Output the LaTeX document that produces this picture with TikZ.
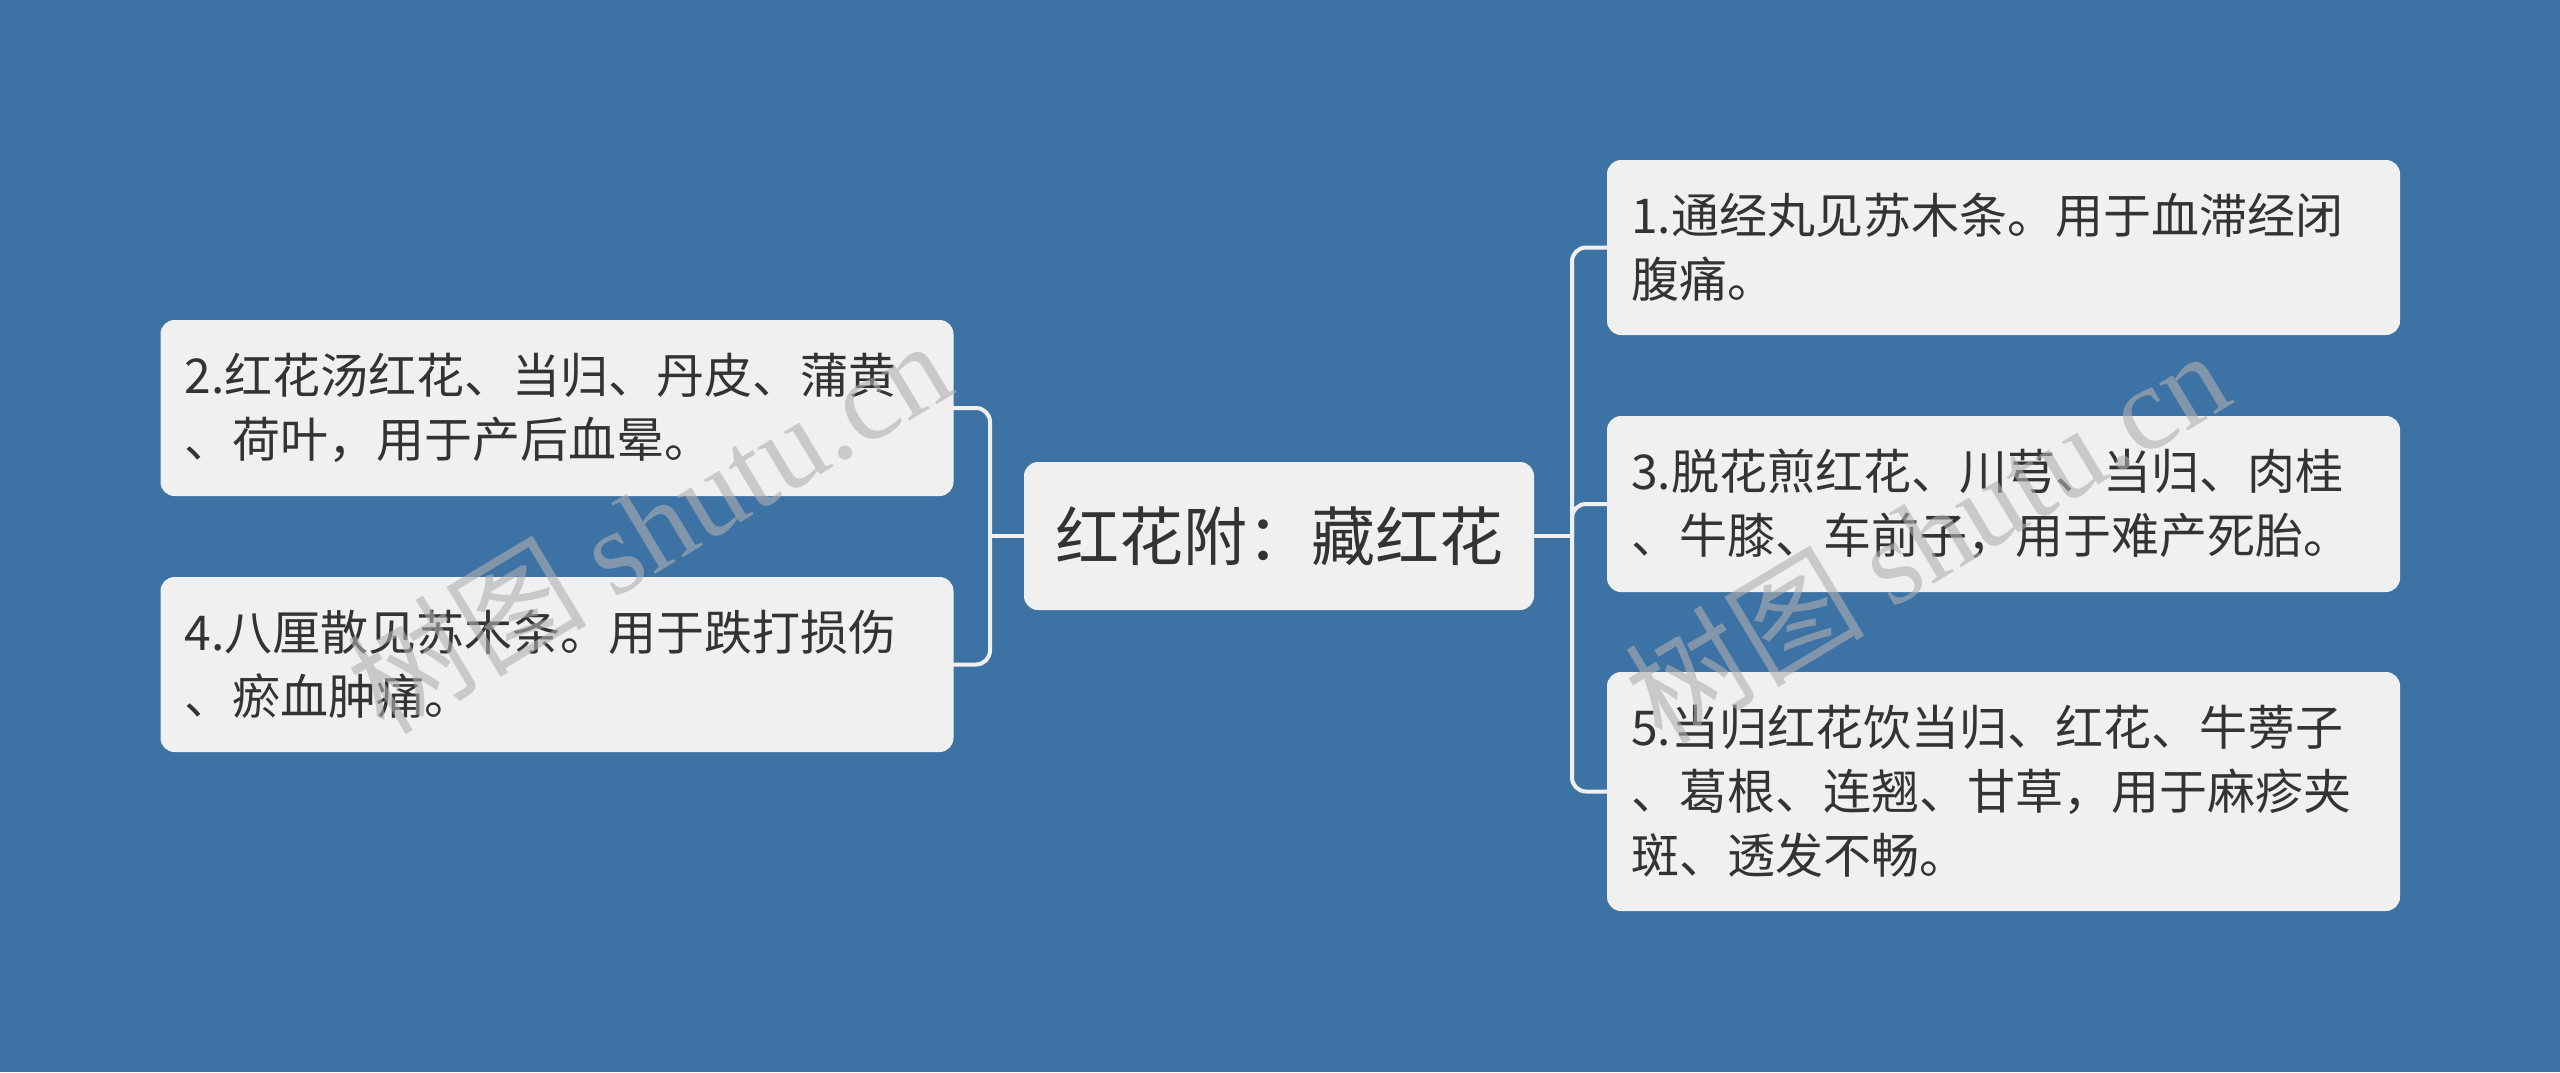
\documentclass[tikz,border=0pt]{standalone}
\usepackage{fontspec}
\setmainfont{Noto Sans CJK SC}
\newfontfamily\cjk{Noto Sans CJK SC}
\newfontfamily\wmserif{Liberation Serif}
\definecolor{bg}{HTML}{3D72A5}
\definecolor{nodefill}{HTML}{F0F0F0}
\definecolor{txt}{HTML}{333333}
\definecolor{wmcol}{RGB}{175,175,175}
\begin{document}
\begin{tikzpicture}[x=1pt,y=-1pt,
  topic/.style={fill=nodefill, rounded corners=14pt, text=txt, inner xsep=24pt, inner ysep=0pt,
    align=left, text width=745pt, font=\cjk\fontsize{48}{64}\selectfont},
  root/.style={fill=nodefill, rounded corners=14pt, text=txt, inner sep=0pt,
    minimum width=510pt, minimum height=148pt, align=center, font=\cjk\fontsize{64}{76}\selectfont},
  conn/.style={draw=nodefill, line width=4pt, rounded corners=14pt, line cap=round},
  wmark/.style={text=wmcol, text opacity=0.6, inner sep=0pt, rotate=31, font=\fontsize{120}{130}\selectfont}]
\fill[bg] (0,0) rectangle (2560,1072);
\useasboundingbox (0,0) rectangle (2560,1072);

\node[root] (c) at (1279,536) {红花附：藏红花};

\node[topic, minimum height=175pt] (n1) at (2003.5,247.5) {1.通经丸见苏木条。用于血滞经闭\\腹痛。};
\node[topic, minimum height=176pt] (n3) at (2003.5,504) {3.脱花煎红花、川芎、当归、肉桂\\、牛膝、车前子，用于难产死胎。};
\node[topic, minimum height=239pt] (n5) at (2003.5,791.5) {5.当归红花饮当归、红花、牛蒡子\\、葛根、连翘、甘草，用于麻疹夹\\斑、透发不畅。};
\node[topic, minimum height=176pt] (n2) at (557,408) {2.红花汤红花、当归、丹皮、蒲黄\\、荷叶，用于产后血晕。};
\node[topic, minimum height=175pt] (n4) at (557,664.5) {4.八厘散见苏木条。用于跌打损伤\\、瘀血肿痛。};

\coordinate (rj) at (1572,536);
\coordinate (lj) at (990,536);

\draw[conn] (c.east) -- (rj);
\draw[conn] (rj) |- (n1.west);
\draw[conn] (rj) |- (n3.west);
\draw[conn] (rj) |- (n5.west);
\draw[conn] (c.west) -- (lj);
\draw[conn] (lj) |- (n2.east);
\draw[conn] (lj) |- (n4.east);

\node[wmark] (wm1) at (648,525) {\cjk 树图 \wmserif shutu.cn};
\node[wmark] (wm2) at (1926,535) {\cjk 树图 \wmserif shutu.cn};
\end{tikzpicture}
\end{document}
